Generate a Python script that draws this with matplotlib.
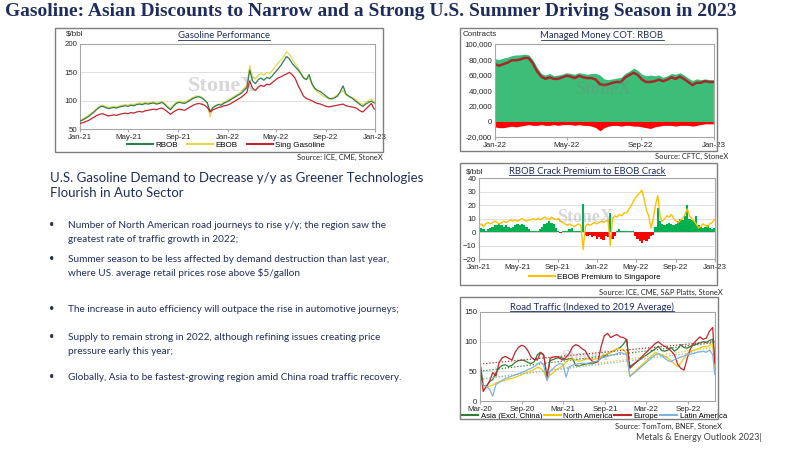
import numpy as np
import pandas as pd
import matplotlib
matplotlib.use('Agg')
import matplotlib.pyplot as plt
import matplotlib.dates as mdates
from matplotlib.lines import Line2D
from matplotlib.patches import Rectangle

plt.rcParams['font.family'] = ['Liberation Sans', 'DejaVu Sans']

# ---------------- data ----------------
# Gasoline performance, weekly, $/bbl
perf_dates = pd.date_range('2021-01-01', periods=105, freq='7D')
rbob = [64, 66, 69, 72, 76, 80, 85, 89, 90, 88, 86, 87, 88,
        87, 89, 90, 91, 90, 92, 91, 93, 94, 93, 95, 94, 95,
        96, 94, 95, 97, 93, 88, 84, 90, 95, 97, 96, 95, 98,
        101, 104, 106, 107, 105, 101, 96, 81, 88, 91, 93, 92, 96,
        98, 101, 104, 107, 110, 113, 118, 123, 154, 135, 130, 137, 140,
        136, 141, 139, 144, 150, 156, 162, 170, 178, 174, 166, 160, 155,
        148, 140, 137, 146, 130, 122, 118, 116, 112, 108, 104, 103, 105,
        108, 116, 126, 112, 108, 105, 101, 97, 93, 90, 94, 97, 99, 96]
ebob = [66, 68, 71, 74, 78, 82, 86, 90, 92, 90, 88, 89, 90,
        89, 91, 92, 93, 92, 94, 93, 95, 96, 95, 97, 96, 97,
        98, 96, 97, 99, 95, 90, 86, 92, 97, 99, 98, 97, 100,
        103, 106, 108, 108, 106, 102, 95, 72, 87, 92, 94, 94, 97,
        100, 103, 106, 109, 112, 116, 121, 127, 162, 142, 138, 145, 148,
        145, 150, 148, 153, 160, 166, 172, 178, 186, 182, 174, 166, 158,
        150, 142, 138, 140, 128, 120, 115, 112, 108, 106, 103, 104, 107,
        110, 114, 118, 110, 108, 106, 104, 100, 96, 93, 97, 100, 103, 98]
sing = [60, 61, 63, 65, 68, 71, 74, 76, 77, 75, 73, 74, 75,
        74, 76, 77, 78, 77, 79, 78, 80, 81, 80, 82, 83, 84,
        85, 84, 86, 87, 84, 80, 76, 80, 83, 85, 84, 83, 86,
        89, 92, 94, 95, 94, 92, 88, 80, 84, 86, 88, 89, 91,
        92, 94, 97, 100, 103, 106, 110, 115, 135, 122, 118, 124, 127,
        125, 129, 128, 132, 136, 140, 142, 145, 147, 150, 146, 140, 128,
        118, 108, 104, 102, 100, 97, 95, 94, 92, 90, 89, 90, 91,
        92, 93, 94, 91, 90, 89, 88, 86, 82, 80, 85, 90, 95, 85]
perf_labels = ['RBOB', 'EBOB', 'Sing Gasoline']

# Managed money COT RBOB, weekly, thousand contracts
cot_dates = pd.date_range('2022-01-01', periods=53, freq='7D')
mm_long = [81, 80, 82, 83, 85, 86, 86, 87, 86, 80, 70, 62, 60,
           62, 59, 60, 61, 63, 62, 61, 63, 62, 61, 62, 62, 60,
           55, 54, 55, 56, 57, 62, 65, 69, 66, 61, 59, 60, 59,
           60, 57, 59, 62, 61, 63, 60, 56, 53, 55, 54, 55, 54,
           54]
mm_short = [-7, -8, -8, -7, -6, -7, -6, -5, -4, -5, -5, -4, -5,
            -5, -4, -5, -4, -4, -4, -5, -4, -5, -5, -6, -8, -12,
            -8, -6, -5, -5, -6, -5, -5, -6, -6, -7, -8, -9, -7,
            -6, -5, -5, -5, -6, -5, -5, -5, -6, -5, -4, -3, -3,
            -3]

# RBOB crack premium to EBOB crack (bars) and EBOB premium to Singapore (line), $/bbl
crack_prem = [2, 3, 2, 1, 2, 3, 4, 5, 5, 6, 5, 4, 5,
              4, 3, 4, 5, 6, 5, 6, 5, 4, 2, 1, 0.5, 1,
              1, 2, 4, 6, 7, 8, 7, 6, 3, 1, -1, 0.5, 1,
              1, 2, 3, 1, 0.5, 1, 0.5, 21, -2, -3, -2, -4, -3,
              -5, -4, -5, -6, -3, -4, 14, -5, -3, 1, 2, 1, 0.5,
              1, 0.5, 1, 0.5, -3, -5, -7, -8, -6, -7, -5, -3, -2,
              4, 18, 8, 6, 5, 6, 7, 6, 5, 6, 8, 10, 9,
              12, 20, 10, 9, 8, 12, 5, 4, 3, 4, 5, 3, 2, 3]
ebob_sing = [5, 6, 4, 6, 7, 6, 7, 8, 7, 6, 7, 8, 7,
             8, 9, 8, 9, 8, 9, 10, 9, 8, 9, 9, 10, 9,
             10, 9, 10, 11, 10, 9, 11, 10, 9, 10, 8, 7, 6,
             5, 6, 5, 4, 5, 6, 5, -13, 4, 6, 5, 6, 7,
             6, 7, 8, 7, 8, 9, -10, 10, 12, 11, 13, 12, 14,
             14, 16, 19, 22, 25, 27, 29, 31, 24, 16, 12, 3, 10,
             20, 27, 12, 8, 10, 12, 11, 13, 10, 8, 7, 9, 10,
             13, 17, 12, 10, 8, 6, 3, 4, 6, 5, 4, 6, 7, 9]

# Road traffic indexed to 2019 average, fortnightly (gap Dec-21 to Apr-22)
traffic_dates = (pd.date_range('2020-03-01', '2021-12-19', freq='14D')
                 .append(pd.date_range('2022-04-10', '2022-12-18', freq='14D'))
                 .append(pd.DatetimeIndex(['2022-12-27'])))
asia = [66, 27, 24, 33, 36, 48, 56, 60, 61, 58, 60, 65, 68, 69, 68, 65,
        63, 66, 78, 82, 76, 42, 68, 70, 72, 74, 72, 70, 71, 72, 60, 59,
        61, 62, 63, 63, 64, 68, 72, 76, 79, 82, 85, 88, 90, 96, 104, 58,
        88, 92, 85, 84, 86, 90, 84, 88, 95, 90, 89, 92, 94, 96, 98, 100,
        99, 102, 104, 72]
n_america = [40, 19, 22, 25, 27, 30, 33, 34, 35, 37, 38, 40, 42, 44, 47, 49,
             51, 53, 57, 55, 50, 36, 44, 48, 53, 56, 60, 66, 70, 71, 69, 67,
             68, 70, 72, 70, 71, 72, 75, 78, 80, 82, 85, 88, 88, 86, 80, 42,
             82, 80, 78, 75, 72, 68, 62, 58, 64, 72, 80, 83, 85, 87, 89, 92,
             91, 94, 95, 55]
europe = [63, 16, 25, 33, 48, 42, 65, 73, 75, 72, 69, 82, 90, 94, 92, 85,
          74, 70, 69, 82, 78, 38, 72, 74, 75, 72, 69, 74, 80, 91, 95, 93,
          88, 85, 75, 68, 65, 66, 92, 110, 114, 107, 110, 112, 108, 107, 103, 55,
          97, 100, 95, 92, 89, 84, 78, 62, 55, 52, 72, 88, 97, 103, 108, 104,
          106, 118, 124, 63]
latam = [35, 27, 24, 20, 8, 28, 31, 35, 38, 40, 42, 44, 46, 48, 50, 53,
         55, 58, 62, 66, 60, 34, 50, 55, 60, 63, 62, 40, 58, 60, 62, 63,
         64, 63, 64, 65, 66, 68, 72, 74, 75, 77, 78, 80, 82, 80, 78, 41,
         78, 80, 76, 72, 68, 66, 70, 72, 74, 76, 78, 79, 80, 82, 83, 84,
         82, 86, 78, 45]
traffic_labels = ['Asia (Excl. China)', 'North America', 'Europe', 'Latin America']

ticks_2y = ['2021-01-01', '2021-05-01', '2021-09-01', '2022-01-01',
            '2022-05-01', '2022-09-01', '2023-01-01']
ticks_2y_lab = ['Jan-21', 'May-21', 'Sep-21', 'Jan-22', 'May-22', 'Sep-22', 'Jan-23']
ticks_cot = ['2022-01-01', '2022-05-01', '2022-09-01', '2023-01-01']
ticks_cot_lab = ['Jan-22', 'May-22', 'Sep-22', 'Jan-23']
ticks_trf = ['2020-03-01', '2020-09-01', '2021-03-01', '2021-09-01', '2022-03-01', '2022-09-01']
ticks_trf_lab = ['Mar-20', 'Sep-20', 'Mar-21', 'Sep-21', 'Mar-22', 'Sep-22']

NAVY = '#1F2D5C'
W, H = 800, 450
TICK_FS = 5.7

fig = plt.figure(figsize=(8, 4.5), dpi=100)


def fx(x):
    return x / W


def fy(y):
    return 1 - y / H


def make_ax(l, t, r, b):
    ax = fig.add_axes([fx(l), fy(b), (r - l) / W, (b - t) / H])
    for s in ax.spines.values():
        s.set_color('#A6A6A6')
        s.set_linewidth(0.8)
    ax.tick_params(labelsize=TICK_FS, length=0, pad=2, colors='#262626')
    ax.tick_params(axis='x', length=2, color='#A6A6A6', pad=1.5)
    return ax


def frame(l, t, r, b):
    fig.add_artist(Rectangle((fx(l), fy(b)), (r - l) / W, (b - t) / H, fill=False,
                             edgecolor='#7F7F7F', lw=1, transform=fig.transFigure))


titles = []


def chart_title(x, y, s):
    t = fig.text(fx(x), fy(y), s, ha='center', va='center', fontsize=6.8,
                 family='Lato', color=NAVY)
    titles.append(t)


def stamp(x, y, size):
    fig.text(fx(x), fy(y), 'StoneX', ha='center', va='center', fontsize=size,
             family='Liberation Serif', weight='bold', color='#7F7F7F', alpha=0.3,
             zorder=10)


def source(x, y, s):
    fig.text(fx(x), fy(y), s, ha='right', va='center', fontsize=5.4,
             family='Lato', color='#262626')


def legend(ax, handles, labels, x, y, ncol, fs=5.8, **kw):
    ax.legend(handles, labels, loc='center', bbox_to_anchor=(fx(x), fy(y)),
              bbox_transform=fig.transFigure, ncol=ncol, frameon=False,
              fontsize=fs, handletextpad=0.3, borderpad=0, **kw)


# ---------------- chart 1: Gasoline performance ----------------
frame(55, 28, 383, 152)
ax1 = make_ax(80, 44, 375, 129)
ax1.grid(axis='y', color='#E0E0E0', lw=0.7)
ax1.set_axisbelow(True)
ax1.plot(perf_dates, rbob, color='#2E7D4F', lw=0.9, zorder=3)
ax1.plot(perf_dates, ebob, color='#E6D84E', lw=0.9, zorder=2)
ax1.plot(perf_dates, sing, color='#C0262D', lw=0.9, zorder=4)
ax1.set_ylim(50, 200)
ax1.set_yticks([50, 100, 150, 200])
ax1.set_xlim(pd.Timestamp('2021-01-01'), pd.Timestamp('2023-01-01'))
ax1.set_xticks(pd.to_datetime(ticks_2y))
ax1.set_xticklabels(ticks_2y_lab)
h1 = [Line2D([], [], color=c, lw=1.5) for c in ['#2E7D4F', '#E6D84E', '#C0262D']]
legend(ax1, h1, perf_labels, 226, 145, 3, handlelength=3.2, columnspacing=1.2)
fig.text(fx(66), fy(34), '$/bbl', fontsize=5.8, va='center', color='#262626')
chart_title(224, 36, 'Gasoline Performance')
stamp(222, 86, 16)
source(383, 157, 'Source: ICE, CME, StoneX')

# ---------------- chart 2: Managed Money COT ----------------
frame(460, 28, 717, 151)
ax2 = make_ax(495, 44, 714, 137)
longs = np.array(mm_long) * 1000
shorts = np.array(mm_short) * 1000
ax2.fill_between(cot_dates, 0, longs, color='#3DBE78', lw=0)
ax2.fill_between(cot_dates, shorts, 0, color='#FF0000', lw=0)
ax2.plot(cot_dates, longs + shorts, color='#A32A2A', lw=1.8)
ax2.set_ylim(-20000, 100000)
ax2.set_yticks(range(-20000, 100001, 20000))
ax2.yaxis.set_major_formatter(matplotlib.ticker.FuncFormatter(lambda v, p: f'{int(v):,}'))
ax2.set_xlim(pd.Timestamp('2022-01-01'), pd.Timestamp('2023-01-01'))
ax2.set_xticks(pd.to_datetime(ticks_cot))
ax2.set_xticklabels(ticks_cot_lab)
fig.text(fx(463), fy(35), 'Contracts', fontsize=5.8, va='center', color='#262626')
chart_title(602, 36, 'Managed Money COT: RBOB')
stamp(603, 90, 13)
source(728, 156, 'Source: CFTC, StoneX')

# ---------------- chart 3: RBOB crack premium ----------------
frame(460, 163, 717, 285)
ax3 = make_ax(479, 178, 715, 259)
ax3.grid(axis='y', color='#E0E0E0', lw=0.7)
ax3.set_axisbelow(True)
bar_cols = ['#00B050' if v >= 0 else '#FF0000' for v in crack_prem]
ax3.bar(perf_dates, crack_prem, width=7, color=bar_cols, lw=0, zorder=2)
ax3.plot(perf_dates, ebob_sing, color='#FFC000', lw=1.0, zorder=3)
ax3.axhline(0, color='#D0D0D0', lw=0.6, zorder=1)
ax3.set_ylim(-20, 40)
ax3.set_yticks(range(-20, 41, 10))
ax3.set_xlim(pd.Timestamp('2021-01-01'), pd.Timestamp('2023-01-01'))
ax3.set_xticks(pd.to_datetime(ticks_2y))
ax3.set_xticklabels(ticks_2y_lab)
legend(ax3, [Line2D([], [], color='#FFC000', lw=1.5)], ['EBOB Premium to Singapore'],
       595, 277, 1, handlelength=3.2)
fig.text(fx(466), fy(172), '$/bbl', fontsize=5.8, va='center', color='#262626')
chart_title(587, 171, 'RBOB Crack Premium to EBOB Crack')
stamp(585, 218, 13)
source(723, 292, 'Source: ICE, CME, S&P Platts, StoneX')

# ---------------- chart 4: Road traffic ----------------
frame(460, 297, 718, 419)
ax4 = make_ax(480, 312, 715, 401)
ax4.grid(axis='y', color='#E0E0E0', lw=0.7)
ax4.set_axisbelow(True)
tnum = mdates.date2num(traffic_dates)
trf_cols = ['#2E7D32', '#F2C811', '#C0262D', '#7FB2DE']
for vals, col in zip([asia, n_america, europe, latam], trf_cols):
    ax4.plot(traffic_dates, vals, color=col, lw=0.9)
    k, c = np.polyfit(tnum, vals, 1)
    ends = np.array([tnum[0], tnum[-1]])
    ax4.plot(mdates.num2date(ends), k * ends + c, color=col, lw=0.9, ls=(0, (1, 1.5)))
ax4.set_ylim(0, 150)
ax4.set_yticks([0, 50, 100, 150])
ax4.set_xlim(pd.Timestamp('2020-03-01'), pd.Timestamp('2022-12-28'))
ax4.set_xticks(pd.to_datetime(ticks_trf))
ax4.set_xticklabels(ticks_trf_lab)
h4 = [Line2D([], [], color=c, lw=1.5) for c in trf_cols]
legend(ax4, h4, traffic_labels, 594, 416, 4, fs=5.6, handlelength=2.2, columnspacing=0.2)
chart_title(592, 307, 'Road Traffic (Indexed to 2019 Average)')
stamp(585, 357, 11)
source(722, 426, 'Source: TomTom, BNEF, StoneX')

# ---------------- slide text ----------------
fig.text(fx(5), fy(12), 'Gasoline: Asian Discounts to Narrow and a Strong U.S. Summer Driving Season in 2023',
         fontsize=14, family='Liberation Serif', weight='bold', color=NAVY, va='center')
fig.text(fx(50), fy(178), 'U.S. Gasoline Demand to Decrease y/y as Greener Technologies',
         fontsize=9.5, family='Lato', color=NAVY, va='center')
fig.text(fx(50), fy(193), 'Flourish in Auto Sector',
         fontsize=9.5, family='Lato', color=NAVY, va='center')

bullets = [
    (225, ['Number of North American road journeys to rise y/y; the region saw the',
           'greatest rate of traffic growth in 2022;']),
    (259, ['Summer season to be less affected by demand destruction than last year,',
           'where US. average retail prices rose above $5/gallon']),
    (310, ['The increase in auto efficiency will outpace the rise in automotive journeys;']),
    (338, ['Supply to remain strong in 2022, although refining issues creating price',
           'pressure early this year;']),
    (378, ['Globally, Asia to be fastest-growing region amid China road traffic recovery.']),
]
for y0, lines in bullets:
    fig.text(fx(49), fy(y0 - 1), '\u2022', fontsize=6.5, family='Lato', color=NAVY, va='center')
    for i, line in enumerate(lines):
        fig.text(fx(68), fy(y0 + 14 * i), line, fontsize=7.2, family='Lato',
                 color=NAVY, va='center')

fig.text(fx(762), fy(437), 'Metals & Energy Outlook 2023|', ha='right', va='center',
         fontsize=6.5, family='Lato', color='#404040')

# underline chart titles
fig.canvas.draw()
rend = fig.canvas.get_renderer()
for t in titles:
    bb = t.get_window_extent(rend)
    fig.add_artist(Line2D([bb.x0 / W, bb.x1 / W], [(bb.y0 + 0.5) / H] * 2,
                          color=NAVY, lw=0.6, transform=fig.transFigure))

fig.savefig('out.png', dpi=100)
